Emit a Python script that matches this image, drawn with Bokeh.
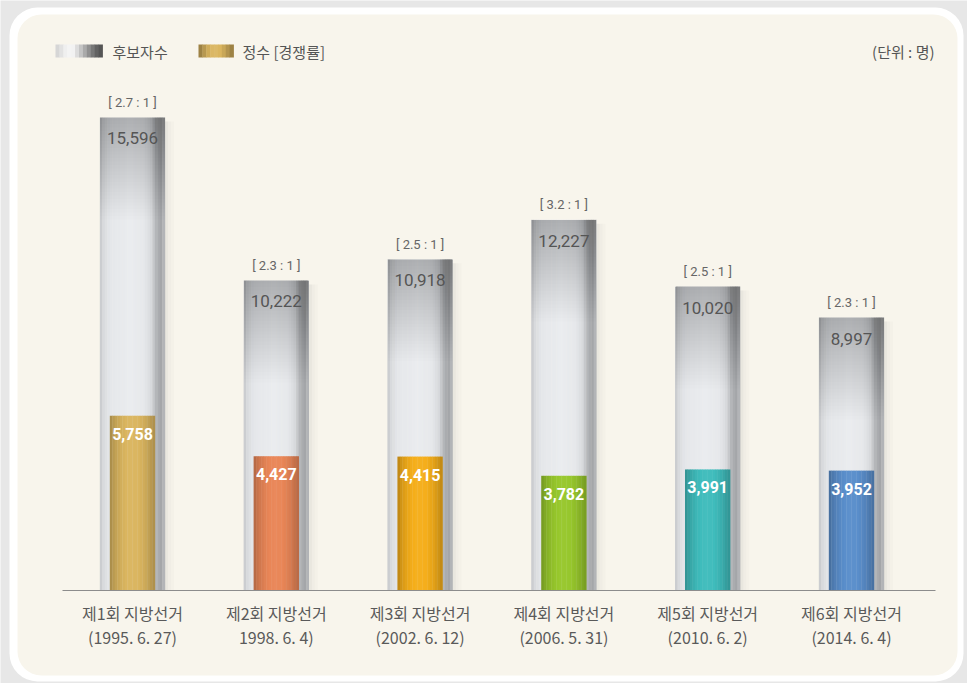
from bokeh.plotting import figure
from bokeh.models import Range1d, BoxAnnotation, ColumnDataSource
from bokeh.embed import file_html
from bokeh.resources import INLINE
from bokeh.core.properties import value

# ---------------- data ----------------
elections = ["제1회 지방선거", "제2회 지방선거", "제3회 지방선거",
             "제4회 지방선거", "제5회 지방선거", "제6회 지방선거"]
dates = ["(1995. 6. 27)", "1998. 6. 4)", "(2002. 6. 12)",
         "(2006. 5. 31)", "(2010. 6. 2)", "(2014. 6. 4)"]
candidates = [15596, 10222, 10918, 12227, 10020, 8997]   # 후보자수
seats = [5758, 4427, 4415, 3782, 3991, 3952]             # 정수
seat_colors = ["#dab55f", "#e98657", "#f5ae1a", "#97c72c", "#3fbcbc", "#5a8ecb"]

# ---------------- layout helpers ----------------
W, H = 967, 683
X0_PX, DX_PX = 132.0, 143.8      # first category centre / spacing (px)
BASE_PX = 590.0                  # baseline (px from top)
PPU = 0.03033                    # px per unit on y
UX = 1.0 / DX_PX
UY = 1.0 / PPU


def px2x(px):
    return (px - X0_PX) / DX_PX


def py2y(py):
    return (BASE_PX - py) / PPU


def hexc(r, g, b):
    c = lambda v: max(0, min(255, int(round(v))))
    return "#%02x%02x%02x" % (c(r), c(g), c(b))


def scale_hex(h, f):
    r, g, b = int(h[1:3], 16), int(h[3:5], 16), int(h[5:7], 16)
    if f <= 1:
        return hexc(r * f, g * f, b * f)
    t = f - 1
    return hexc(r + (255 - r) * t, g + (255 - g) * t, b + (255 - b) * t)


def interp(keys, t):
    for (a, va), (b, vb) in zip(keys[:-1], keys[1:]):
        if a <= t <= b:
            return va + (vb - va) * (t - a) / (b - a)
    return keys[-1][1]


p = figure(width=W, height=H, x_range=Range1d(px2x(0), px2x(W)),
           y_range=Range1d(py2y(H), py2y(0)), output_backend="svg",
           toolbar_location=None, min_border=0)
p.axis.visible = False
p.grid.visible = False
p.outline_line_color = None
p.background_fill_color = "#e7e7e7"
p.border_fill_color = "#e7e7e7"

# panel
p.add_layout(BoxAnnotation(left=px2x(9), right=px2x(963), top=py2y(7), bottom=py2y(681),
                           fill_color="#ffffff", fill_alpha=1, line_color=None,
                           border_radius=28, level="underlay"))
p.add_layout(BoxAnnotation(left=px2x(17), right=px2x(957), top=py2y(14), bottom=py2y(675),
                           fill_color="#f8f5ec", fill_alpha=1, line_color=None,
                           border_radius=24, level="underlay"))

n = len(candidates)
xs = list(range(n))

# ---------------- outer (candidate) bars as gradient slices ----------------
OUT_W = 65.0
out_keys = [(0, 0xc8), (4, 0xdc), (10, 0xe8), (30, 0xed), (44, 0xe9), (51, 0xdc),
            (57, 0xb2), (61, 0xa6), (65, 0xbc)]
ns = 26
sw = OUT_W / ns
ox, otop, ow, oc = [], [], [], []
for i, c in zip(xs, candidates):
    for k in range(ns):
        v = interp(out_keys, sw * (k + 0.5))
        ox.append(i + (-OUT_W / 2 + sw * (k + 0.5)) * UX)
        otop.append(c)
        ow.append(sw * 1.15 * UX)
        oc.append(hexc(v - 3, v - 1, v + 2))
p.vbar(x="x", top="top", bottom=0, width="w", fill_color="c", line_color=None,
       source=ColumnDataSource(dict(x=ox, top=otop, w=ow, c=oc)))

# right soft shadow
shx, sht, sha = [], [], []
for i, c in zip(xs, candidates):
    for k, a in enumerate([0.10, 0.06, 0.03]):
        shx.append(i + (OUT_W / 2 + 1.5 + 3 * k) * UX)
        sht.append(c - 4 * UY)
        sha.append(a)
p.vbar(x="x", top="top", bottom=0, width=3 * UX, fill_color="#707070", fill_alpha="a",
       line_color=None, source=ColumnDataSource(dict(x=shx, top=sht, a=sha)))

# top darkening of outer bars (smooth vertical gradient)
dl, dr, dt, db = [], [], [], []
NL = 30
for i, c in zip(xs, candidates):
    for k in range(NL):
        dl.append(i - OUT_W / 2 * UX)
        dr.append(i + OUT_W / 2 * UX)
        dt.append(c)
        db.append(c - (k + 1) * 3.4 * UY)
p.quad(left="l", right="r", top="t", bottom="b", fill_color="#000000", fill_alpha=0.0085,
       line_color=None, source=ColumnDataSource(dict(l=dl, r=dr, t=dt, b=db)))

# ---------------- inner (seat) bars as gradient slices ----------------
IN_W = 45.0
in_keys = [(0, 0.76), (5, 0.88), (12, 0.97), (20, 1.03), (28, 1.01), (36, 0.93), (45, 0.78)]
ni = 18
isw = IN_W / ni
ix, itop, iw, ic = [], [], [], []
for i, s, col in zip(xs, seats, seat_colors):
    for k in range(ni):
        f = interp(in_keys, isw * (k + 0.5))
        ix.append(i + (-IN_W / 2 + isw * (k + 0.5)) * UX)
        itop.append(s)
        iw.append(isw * 1.15 * UX)
        ic.append(scale_hex(col, f))
p.vbar(x="x", top="top", bottom=0, width="w", fill_color="c", line_color=None,
       source=ColumnDataSource(dict(x=ix, top=itop, w=iw, c=ic)))

# baseline
p.segment(x0=px2x(62), y0=0, x1=px2x(935), y1=0, line_color="#8c8c8c", line_width=1)

# ---------------- labels ----------------
NUM_FONT = value("Roboto")
KR_FONT = value("Noto Sans CJK KR")

ratio_lbl = ["[ %.1f : 1 ]" % (c / s) for c, s in zip(candidates, seats)]
p.text(x=xs, y=[c + 15 * UY for c in candidates], text=ratio_lbl, text_align="center",
       text_baseline="middle", text_font=NUM_FONT, text_font_size="13px", text_color="#666666")
p.text(x=xs, y=[c - 21 * UY for c in candidates], text=["{:,}".format(c) for c in candidates],
       text_align="center", text_baseline="middle", text_font=NUM_FONT,
       text_font_size="17px", text_color="#555555")
p.text(x=xs, y=[s - 18 * UY for s in seats], text=["{:,}".format(s) for s in seats],
       text_align="center", text_baseline="middle", text_font=NUM_FONT,
       text_font_size="16px", text_font_style="bold", text_color="#ffffff")

p.text(x=xs, y=[py2y(612)] * n, text=elections, text_align="center", text_baseline="middle",
       text_font=KR_FONT, text_font_size="16px", text_color="#5a5a5a")
p.text(x=xs, y=[py2y(636)] * n, text=dates, text_align="center", text_baseline="middle",
       text_font=KR_FONT, text_font_size="16px", text_color="#5a5a5a")

# ---------------- legend ----------------
leg_gray = ["#d6d6d6", "#e2e2e2", "#efefef", "#f4f4f4", "#f2f2f2", "#dcdcdc",
            "#c4c4c4", "#aaaaaa", "#909090", "#777777", "#626262", "#555555"]
gw = 47.0 / len(leg_gray)
p.quad(left=[px2x(55 + gw * k) for k in range(len(leg_gray))],
       right=[px2x(55 + gw * (k + 1) + 0.4) for k in range(len(leg_gray))],
       top=py2y(44), bottom=py2y(57), fill_color=leg_gray, line_color=None)
leg_gold = [scale_hex(seat_colors[0], f) for f in [0.72, 0.84, 0.95, 1.03, 1.05, 1.0, 0.92, 0.82, 0.72]]
gw2 = 35.0 / len(leg_gold)
p.quad(left=[px2x(198 + gw2 * k) for k in range(len(leg_gold))],
       right=[px2x(198 + gw2 * (k + 1) + 0.4) for k in range(len(leg_gold))],
       top=py2y(44), bottom=py2y(57), fill_color=leg_gold, line_color=None)
p.text(x=[px2x(112), px2x(242)], y=[py2y(51)] * 2, text=["후보자수", "정수 [경쟁률]"],
       text_align="left", text_baseline="middle", text_font=KR_FONT,
       text_font_size="15px", text_color="#555555")
p.text(x=[px2x(934)], y=[py2y(51)], text=["(단위 : 명)"], text_align="right",
       text_baseline="middle", text_font=KR_FONT, text_font_size="15px", text_color="#555555")

open("out.html", "w").write(file_html(p, INLINE))
